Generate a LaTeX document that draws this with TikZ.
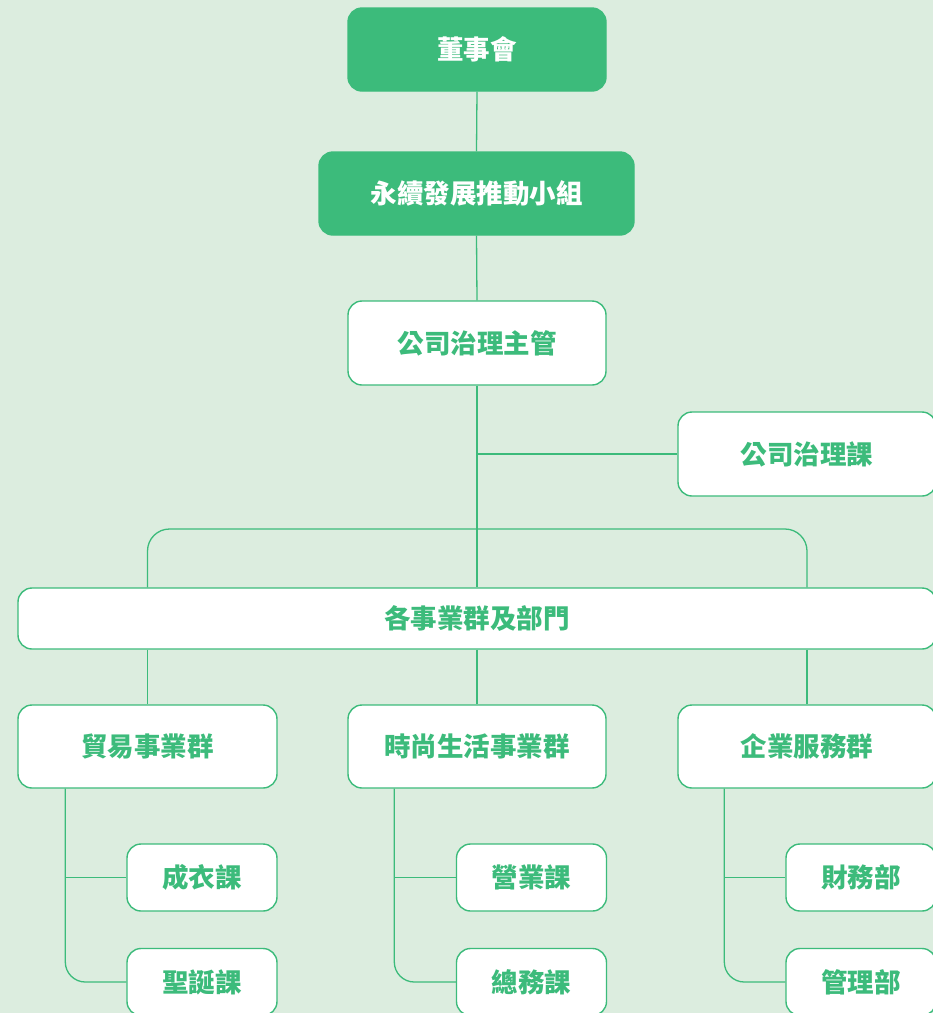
\documentclass[tikz,border=0pt]{standalone}
\usepackage{fontspec}
\newfontfamily\cjk{Noto Sans CJK TC}
\usetikzlibrary{calc}
\definecolor{gr}{HTML}{3CBB7B}
\definecolor{bg}{HTML}{DCEDDF}
\tikzset{
  base/.style={rounded corners=14pt, line width=1.4pt, font=\cjk\bfseries\fontsize{26.5}{30}\selectfont, inner sep=0pt, anchor=center},
  filled/.style={base, fill=gr, draw=gr, text=white},
  plain/.style={base, fill=white, draw=gr, text=gr},
  conn/.style={draw=gr, line width=1.3pt}
}
\begin{document}
\begin{tikzpicture}[x=1pt,y=-1pt]
\useasboundingbox (0,0) rectangle (933,1013);
\clip (0,0) rectangle (933,1013);
\fill[bg] (0,0) rectangle (933,1013);
% nodes
\node[filled, minimum width=258pt, minimum height=83pt] (board) at (477,49.5) {董事會};
\node[filled, minimum width=315pt, minimum height=83pt] (esg) at (476.5,193.5) {永續發展推動小組};
\node[plain, minimum width=258pt, minimum height=84pt] (cgo) at (477,343) {公司治理主管};
\node[plain, minimum width=258pt, minimum height=84pt] (cgs) at (807,454) {公司治理課};
\node[plain, minimum width=918pt, minimum height=61pt] (all) at (477,618.5) {各事業群及部門};
\node[plain, minimum width=259pt, minimum height=83pt] (trade) at (147.5,746.5) {貿易事業群};
\node[plain, minimum width=258pt, minimum height=83pt] (fash) at (477,746.5) {時尚生活事業群};
\node[plain, minimum width=258pt, minimum height=83pt] (svc) at (807,746.5) {企業服務群};
\node[plain, minimum width=150pt, minimum height=67pt] (t1) at (202,877.5) {成衣課};
\node[plain, minimum width=150pt, minimum height=67pt] (t2) at (202,982) {聖誕課};
\node[plain, minimum width=150pt, minimum height=67pt] (f1) at (531.5,877.5) {營業課};
\node[plain, minimum width=150pt, minimum height=67pt] (f2) at (531.5,982) {總務課};
\node[plain, minimum width=150pt, minimum height=67pt] (s1) at (861,877.5) {財務部};
\node[plain, minimum width=150pt, minimum height=67pt] (s2) at (861,982) {管理部};
% connectors
\draw[conn] (board.south) -- (esg.north);
\draw[conn] (esg.south) -- (cgo.north);
\draw[conn] (cgo.south) -- (all.north);
\draw[conn] (cgo.south |- cgs.west) -- (cgs.west);
\draw[conn, rounded corners=22pt] (all.north -| trade.north) |- (477,529) -| (all.north -| svc.north);
\draw[conn] (all.south -| trade.north) -- (trade.north);
\draw[conn] (all.south) -- (fash.north);
\draw[conn] (all.south -| svc.north) -- (svc.north);
% sub branches
\coordinate (tv) at ($(trade.south west)+(48,0)$);
\coordinate (fv) at ($(fash.south west)+(47,0)$);
\coordinate (sv) at ($(svc.south west)+(47,0)$);
\draw[conn] (tv |- t1.west) -- (t1.west);
\draw[conn, rounded corners=20pt] (tv) |- (t2.west);
\draw[conn] (fv |- f1.west) -- (f1.west);
\draw[conn, rounded corners=20pt] (fv) |- (f2.west);
\draw[conn] (sv |- s1.west) -- (s1.west);
\draw[conn, rounded corners=20pt] (sv) |- (s2.west);
\end{tikzpicture}
\end{document}
